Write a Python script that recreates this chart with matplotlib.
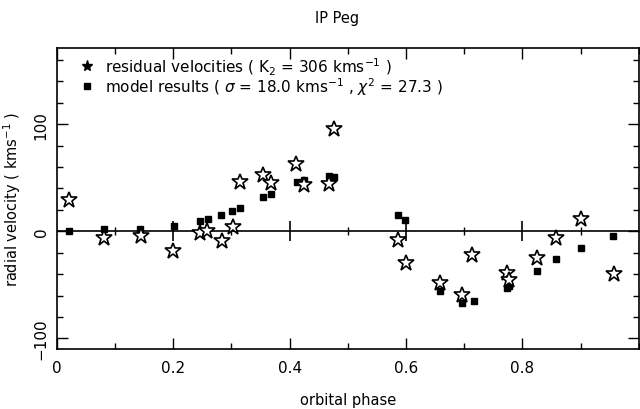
import numpy as np
import matplotlib
matplotlib.use('Agg')
import matplotlib.pyplot as plt
from matplotlib.ticker import MultipleLocator

# residual velocities (stars)
star_phase = [0.021, 0.081, 0.144, 0.200, 0.246, 0.258, 0.284, 0.303, 0.315,
              0.355, 0.368, 0.411, 0.424, 0.467, 0.476, 0.587, 0.600, 0.659,
              0.696, 0.714, 0.773, 0.777, 0.825, 0.858, 0.900, 0.957]
star_vel = [29.5, -6.5, -4.7, -18.7, -2.0, 0.0, -9.0, 4.3, 45.8,
            52.3, 45.0, 62.6, 43.3, 44.2, 95.6, -7.8, -29.6, -48.0,
            -59.5, -22.2, -39.0, -45.5, -25.3, -6.3, 11.8, -39.6]

# model results (filled squares)
model_phase = [0.021, 0.080, 0.143, 0.201, 0.246, 0.259, 0.282, 0.301, 0.315,
               0.355, 0.368, 0.413, 0.424, 0.467, 0.477, 0.587, 0.599, 0.659,
               0.697, 0.716, 0.773, 0.777, 0.825, 0.857, 0.901, 0.956]
model_vel = [0.3, 2.5, 2.5, 5.0, 9.3, 11.2, 15.5, 19.0, 21.5,
             31.8, 35.2, 45.8, 48.0, 52.0, 51.0, 15.2, 10.3, -56.0,
             -67.0, -65.4, -52.7, -51.0, -36.8, -26.2, -15.6, -4.7]

plt.rcParams['font.family'] = 'DejaVu Sans'
plt.rcParams['font.size'] = 10

fig = plt.figure(figsize=(6.4, 4.1), dpi=100)
ax = fig.add_axes([0.089, 0.146, 0.909, 0.734])

# zero line with its own ticks
ax.axhline(0, color='black', lw=1.2, zorder=1)
ax.plot([0.2, 0.4, 0.6, 0.8], [0] * 4, ls='none', marker='|', ms=14, mew=1.2, color='black', zorder=1)
ax.plot([0.1, 0.3, 0.5, 0.7, 0.9], [0] * 5, ls='none', marker='|', ms=6, mew=1.0, color='black', zorder=1)

ax.plot(model_phase, model_vel, ls='none', marker='s', ms=5, color='black', zorder=2)
ax.plot(star_phase, star_vel, ls='none', marker='*', ms=12, mfc='white', mec='black', mew=1.2, zorder=3)

ax.set_xlim(0, 1)
ax.set_ylim(-110, 171)
ax.xaxis.set_minor_locator(MultipleLocator(0.1))
ax.yaxis.set_major_locator(MultipleLocator(100))
ax.yaxis.set_minor_locator(MultipleLocator(20))
ax.set_xticks([0, 0.2, 0.4, 0.6, 0.8])
ax.set_xticklabels(['0', '0.2', '0.4', '0.6', '0.8'])
ax.tick_params(which='both', direction='in', top=True, right=True, width=1.0)
ax.tick_params(which='major', length=8)
ax.tick_params(which='minor', length=4)
ax.tick_params(axis='x', pad=8, labelsize=11)
ax.tick_params(axis='y', pad=6, labelsize=11)
for lab in ax.get_yticklabels():
    lab.set_rotation(90)
    lab.set_va('center')
for s in ax.spines.values():
    s.set_linewidth(1.2)

ax.set_xlabel('orbital phase', fontsize=10.5, labelpad=12)
ax.set_ylabel('radial velocity ( kms$^{-1}$ )', fontsize=10.5, labelpad=8)

fig.text(0.527, 0.956, 'IP Peg', ha='center', va='center', fontsize=10.5)

# legend
ax.plot([0.051], [0.940], transform=ax.transAxes, marker='*', ms=8, mfc='black', mec='black', ls='none')
ax.plot([0.051], [0.874], transform=ax.transAxes, marker='s', ms=4, color='black', ls='none')
ax.text(0.082, 0.940, 'residual velocities ( K$_2$ = 306 kms$^{-1}$ )', transform=ax.transAxes,
        va='center', fontsize=11)
ax.text(0.082, 0.874, r'model results ( $\sigma$ = 18.0 kms$^{-1}$ , $\chi^2$ = 27.3 )', transform=ax.transAxes,
        va='center', fontsize=11)

fig.savefig('out.png', dpi=100)
